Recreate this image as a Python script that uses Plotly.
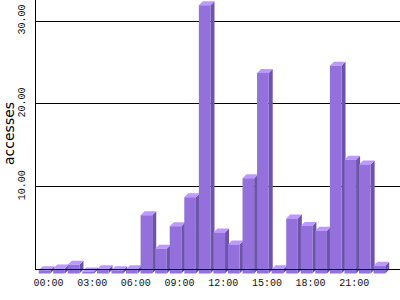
import plotly.graph_objects as go

hours = list(range(24))
accesses = [0.4, 0.6, 1.05, 0.25, 0.5, 0.4, 0.5, 7.05, 3.0, 5.7, 9.2, 32.4,
            4.95, 3.5, 11.5, 24.2, 0.5, 6.65, 5.75, 5.15, 25.1, 13.75, 13.15, 0.95]
tick_hours = [0, 3, 6, 9, 12, 15, 18, 21]
tick_labels = ["00:00", "03:00", "06:00", "09:00", "12:00", "15:00", "18:00", "21:00"]
y_ticks = [10, 20, 30]
y_tick_labels = ["10.00", "20.00", "30.00"]

W, H = 400, 300
ML, MB = 35, 25
plot_w, plot_h = W - ML, H - MB
x_px_per = 14.56
x0_px = 48.5 - ML
x_range = [-x0_px / x_px_per, (plot_w - x0_px) / x_px_per]
y_px_per = 8.28
y0_px = 269.5
y_range = [-(plot_h - y0_px) / y_px_per, y0_px / y_px_per]

half = 0.4
dx = 4 / x_px_per
dy = 4 / y_px_per

front_x, front_y, side_x, side_y, top_x, top_y = [], [], [], [], [], []
for h, v in zip(hours, accesses):
    xl, xr = h - half, h + half
    front_x += [xl - dx, xr - dx, xr - dx, xl - dx, xl - dx, None]
    front_y += [-dy, -dy, v - dy, v - dy, -dy, None]
    side_x += [xr - dx, xr, xr, xr - dx, xr - dx, None]
    side_y += [-dy, 0, v, v - dy, -dy, None]
    top_x += [xl - dx, xl, xr, xr - dx, xl - dx, None]
    top_y += [v - dy, v, v, v - dy, v - dy, None]

fig = go.Figure()
for xs, ys, col in [(side_x, side_y, "#6C55A8"), (top_x, top_y, "#BC98FF"),
                    (front_x, front_y, "#9370DB")]:
    fig.add_trace(go.Scatter(x=xs, y=ys, mode="lines", fill="toself", fillcolor=col,
                             line=dict(width=0, color=col), hoverinfo="skip",
                             showlegend=False))

fig.update_layout(
    width=W, height=H, margin=dict(l=ML, r=0, t=0, b=MB, pad=0),
    paper_bgcolor="white", plot_bgcolor="white", showlegend=False,
    xaxis=dict(range=x_range, tickvals=tick_hours, ticktext=tick_labels, showgrid=False,
               zeroline=False, showline=False, ticks="",
               tickfont=dict(family="Liberation Mono", size=10, color="#111111")),
    yaxis=dict(range=y_range, tickvals=y_ticks, ticktext=y_tick_labels, showgrid=True,
               gridcolor="black", gridwidth=1, zeroline=False, showline=False, ticks="",
               tickangle=-90, ticklabelstandoff=7,
               tickfont=dict(family="Liberation Mono", size=10, color="#111111")),
    shapes=[
        dict(type="line", xref="paper", yref="y", x0=0, x1=1, y0=0, y1=0,
             line=dict(color="black", width=1), layer="above"),
        dict(type="line", xref="paper", yref="y", x0=0.5 / plot_w, x1=0.5 / plot_w,
             y0=0, y1=y_range[1], line=dict(color="black", width=1), layer="above"),
    ],
    annotations=[dict(text="accesses", textangle=-90, xref="paper", yref="paper",
                      x=(9 - ML) / plot_w, y=(plot_h - 134) / plot_h,
                      xanchor="center", yanchor="middle", showarrow=False,
                      font=dict(family="DejaVu Sans", size=14, color="black"))],
)
fig.write_html("out.html")
